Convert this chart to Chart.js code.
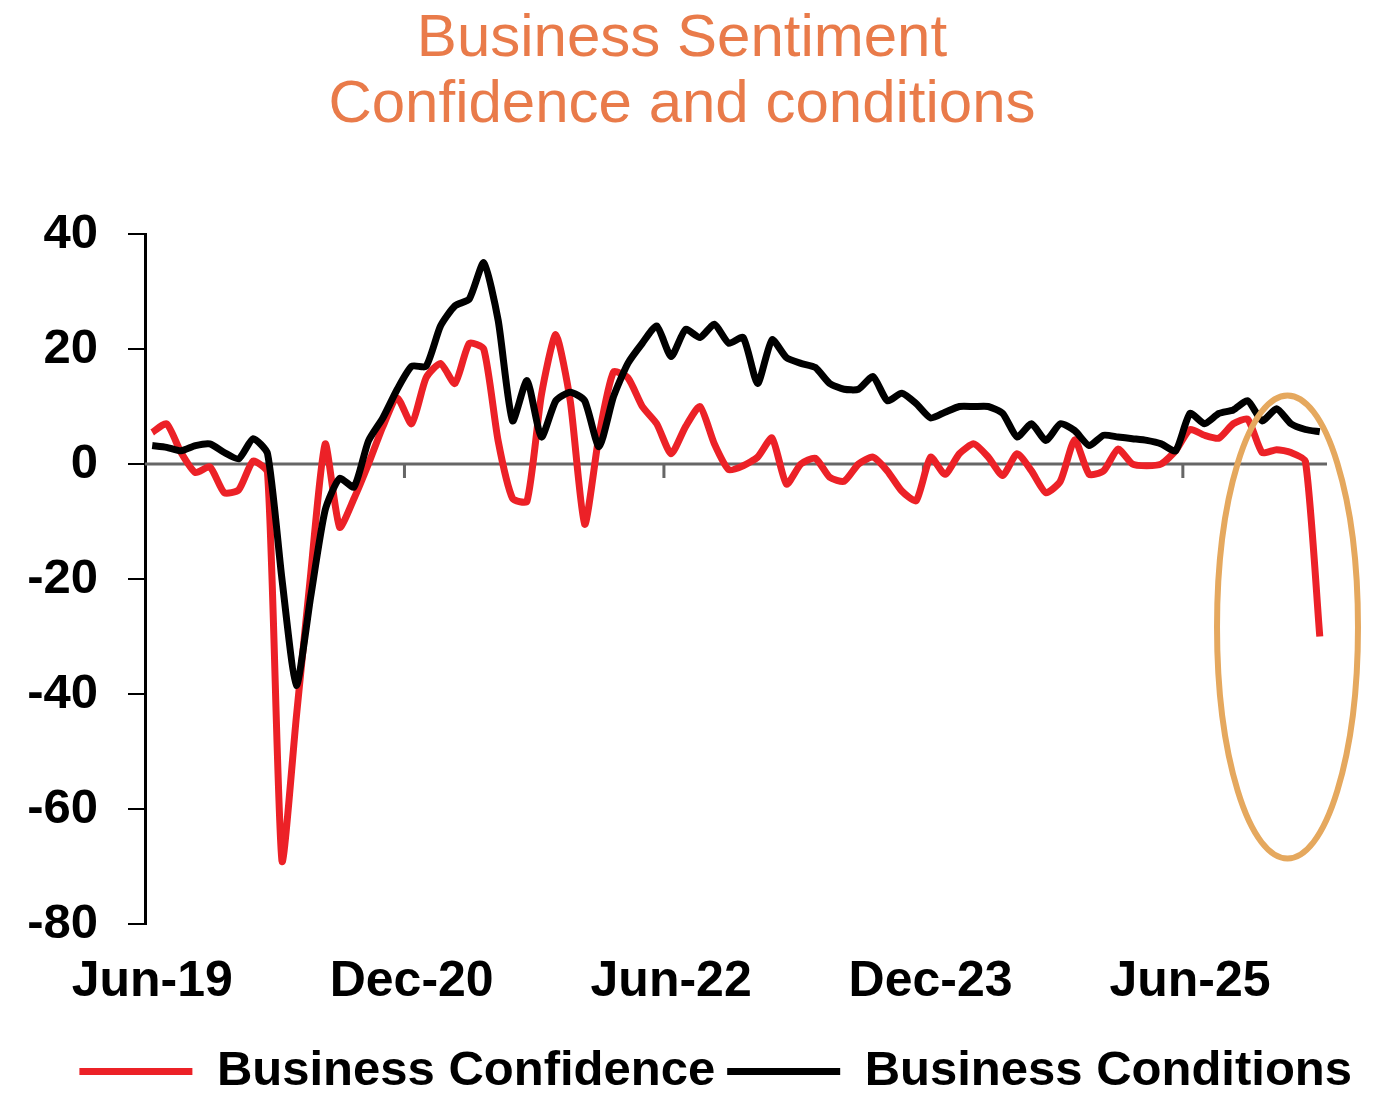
<!DOCTYPE html>
<html>
<head>
<meta charset="utf-8">
<title>Business Sentiment</title>
<script src="https://cdn.jsdelivr.net/npm/chart.js@4.4.1/dist/chart.umd.min.js"></script>
<style>
  html, body { margin: 0; padding: 0; background: #fff; }
  #wrap { width: 1382px; height: 1100px; position: relative; }
</style>
</head>
<body>
<div id="wrap"><canvas id="myChart"></canvas></div>
<script>
// monthly survey, Jun-19 .. Mar-26
var months = [
  'Jun-19','Jul-19','Aug-19','Sep-19','Oct-19','Nov-19','Dec-19',
  'Jan-20','Feb-20','Mar-20','Apr-20','May-20','Jun-20','Jul-20','Aug-20','Sep-20','Oct-20','Nov-20','Dec-20',
  'Jan-21','Feb-21','Mar-21','Apr-21','May-21','Jun-21','Jul-21','Aug-21','Sep-21','Oct-21','Nov-21','Dec-21',
  'Jan-22','Feb-22','Mar-22','Apr-22','May-22','Jun-22','Jul-22','Aug-22','Sep-22','Oct-22','Nov-22','Dec-22',
  'Jan-23','Feb-23','Mar-23','Apr-23','May-23','Jun-23','Jul-23','Aug-23','Sep-23','Oct-23','Nov-23','Dec-23',
  'Jan-24','Feb-24','Mar-24','Apr-24','May-24','Jun-24','Jul-24','Aug-24','Sep-24','Oct-24','Nov-24','Dec-24',
  'Jan-25','Feb-25','Mar-25','Apr-25','May-25','Jun-25','Jul-25','Aug-25','Sep-25','Oct-25','Nov-25','Dec-25',
  'Jan-26','Feb-26','Mar-26'
];
var tickLabels = ['Jun-19', 'Dec-20', 'Jun-22', 'Dec-23', 'Jun-25'];

var businessConfidence = [
  5.5, 7, 2, -1.5, -0.5, -5, -4.5,
  0.5, -1.5, -69, -44, -19, 3.5, -11, -6, 0, 6.5, 11.5, 7,
  15, 17.5, 14, 21, 20, 4, -6, -6.5, 12, 22.5, 11, -10.5,
  5, 16, 15, 10, 7, 1.8, 6.5, 10, 3.5, -1, -0.3, 1.2,
  4.5, -3.5, 0, 1, -2.3, -3, 0, 1.2, -1.2, -4.7, -6.4, 1.2,
  -1.8, 1.8, 3.5, 1.2, -2, 1.8, -1.2, -5, -3, 4.2, -1.8, -1.2,
  2.6, 0, -0.3, 0, 2.3, 6, 5, 4.5, 7, 7.8, 2, 2.5,
  2, 0.5, -30
];
var businessConditions = [
  3.2, 2.9, 2.3, 3.2, 3.5, 2, 0.9,
  4.4, 1.8, -20, -38.5, -23, -8, -2.5, -4, 4, 8, 13, 17,
  17, 24, 27.5, 28.7, 35, 25, 7.5, 14.5, 4.7, 11, 12.5, 11,
  3, 11.7, 17.5, 21, 24, 18.7, 23.4, 22, 24.3, 21, 22, 14,
  21.6, 18.5, 17.5, 16.8, 14, 13, 13, 15.2, 11, 12.3, 10.5, 8,
  9, 10, 10, 10, 8.8, 4.7, 7, 4.1, 7, 5.8, 3.2, 5,
  4.7, 4.4, 4.1, 3.5, 2.3, 8.8, 7, 8.8, 9.4, 11, 7.5, 9.6,
  7, 6, 5.6
];

// orange ring round the latest readings (category index / value units)
var ring = { x: 78.76, y: -28.35, halfX: 4.89, halfY: 40.26 };

Chart.defaults.font.family = '"Liberation Sans", Arial, sans-serif';
Chart.defaults.color = '#000';

var zeroAxis = {
  id: 'zeroAxis',
  beforeDatasetsDraw: function(chart) {
    var ctx = chart.ctx, xs = chart.scales.x, ys = chart.scales.y;
    var y0 = ys.getPixelForValue(0);
    var step = (xs.right - xs.left) / months.length;
    ctx.save();
    ctx.strokeStyle = '#666';
    ctx.lineWidth = 3;
    ctx.beginPath();
    ctx.moveTo(xs.left, y0);
    ctx.lineTo(xs.right, y0);
    months.forEach(function(m, i) {
      if (i > 0 && tickLabels.indexOf(m) >= 0) {
        ctx.moveTo(xs.left + i * step, y0);
        ctx.lineTo(xs.left + i * step, y0 + 14);
      }
    });
    ctx.stroke();
    ctx.restore();
  }
};

var ringPlugin = {
  id: 'ring',
  afterDatasetsDraw: function(chart) {
    var ctx = chart.ctx, xs = chart.scales.x, ys = chart.scales.y;
    var cx = xs.getPixelForValue(ring.x);
    var cy = ys.getPixelForValue(ring.y);
    var rx = xs.getPixelForValue(ring.x + ring.halfX) - cx;
    var ry = ys.getPixelForValue(ring.y - ring.halfY) - cy;
    ctx.save();
    ctx.strokeStyle = '#E5A85E';
    ctx.lineWidth = 6;
    ctx.beginPath();
    ctx.ellipse(cx, cy, rx, ry, 0, 0, Math.PI * 2);
    ctx.stroke();
    ctx.restore();
  }
};

var ctx = document.getElementById('myChart');
new Chart(ctx, {
  type: 'line',
  data: {
    labels: months,
    datasets: [{
      label: 'Business Confidence',
      data: businessConfidence,
      borderColor: '#EC2127',
      backgroundColor: '#EC2127',
      borderWidth: 7,
      borderJoinStyle: 'round',
      pointRadius: 0,
      tension: 0.2,
      order: 1
    }, {
      label: 'Business Conditions',
      data: businessConditions,
      borderColor: '#000',
      backgroundColor: '#000',
      borderWidth: 7,
      borderJoinStyle: 'round',
      pointRadius: 0,
      tension: 0.2,
      order: 0
    }]
  },
  options: {
    responsive: true,
    maintainAspectRatio: false,
    animation: false,
    layout: { padding: { left: 0, right: 18, top: 0, bottom: -6 } },
    plugins: {
      title: {
        display: true,
        text: ['Business Sentiment', 'Confidence and conditions'],
        color: '#E97B4A',
        font: { size: 60, weight: 'normal', lineHeight: 1.1 },
        padding: { top: 6, bottom: 96 }
      },
      legend: {
        position: 'bottom',
        align: 'end',
        labels: {
          usePointStyle: true,
          pointStyle: 'line',
          pointStyleWidth: 113,
          padding: 12,
          color: '#000',
          font: { size: 49, weight: 'bold' },
          sort: function(a, b) { return a.datasetIndex - b.datasetIndex; }
        }
      },
      tooltip: { enabled: false }
    },
    scales: {
      x: {
        offset: true,
        grid: { display: false, drawTicks: false },
        border: { display: false },
        ticks: {
          autoSkip: false,
          maxRotation: 0,
          padding: 28,
          font: { size: 50, weight: 'bold' },
          callback: function(val) {
            var l = this.getLabelForValue(val);
            return tickLabels.indexOf(l) >= 0 ? l : '';
          }
        },
        afterFit: function(s) { s.height = 111; }
      },
      y: {
        min: -80,
        max: 40,
        ticks: { stepSize: 20, padding: 30, font: { size: 49, weight: 'bold' } },
        grid: { drawOnChartArea: false, color: '#000', lineWidth: 2, tickLength: 17 },
        border: { color: '#000', width: 3 },
        afterFit: function(s) { s.width = 145; }
      },
      yRight: {
        position: 'right',
        display: true,
        grid: { display: false, drawTicks: false },
        border: { display: false },
        ticks: { display: false },
        afterFit: function(s) { s.width = 37; }
      }
    }
  },
  plugins: [zeroAxis, ringPlugin]
});
</script>
</body>
</html>
